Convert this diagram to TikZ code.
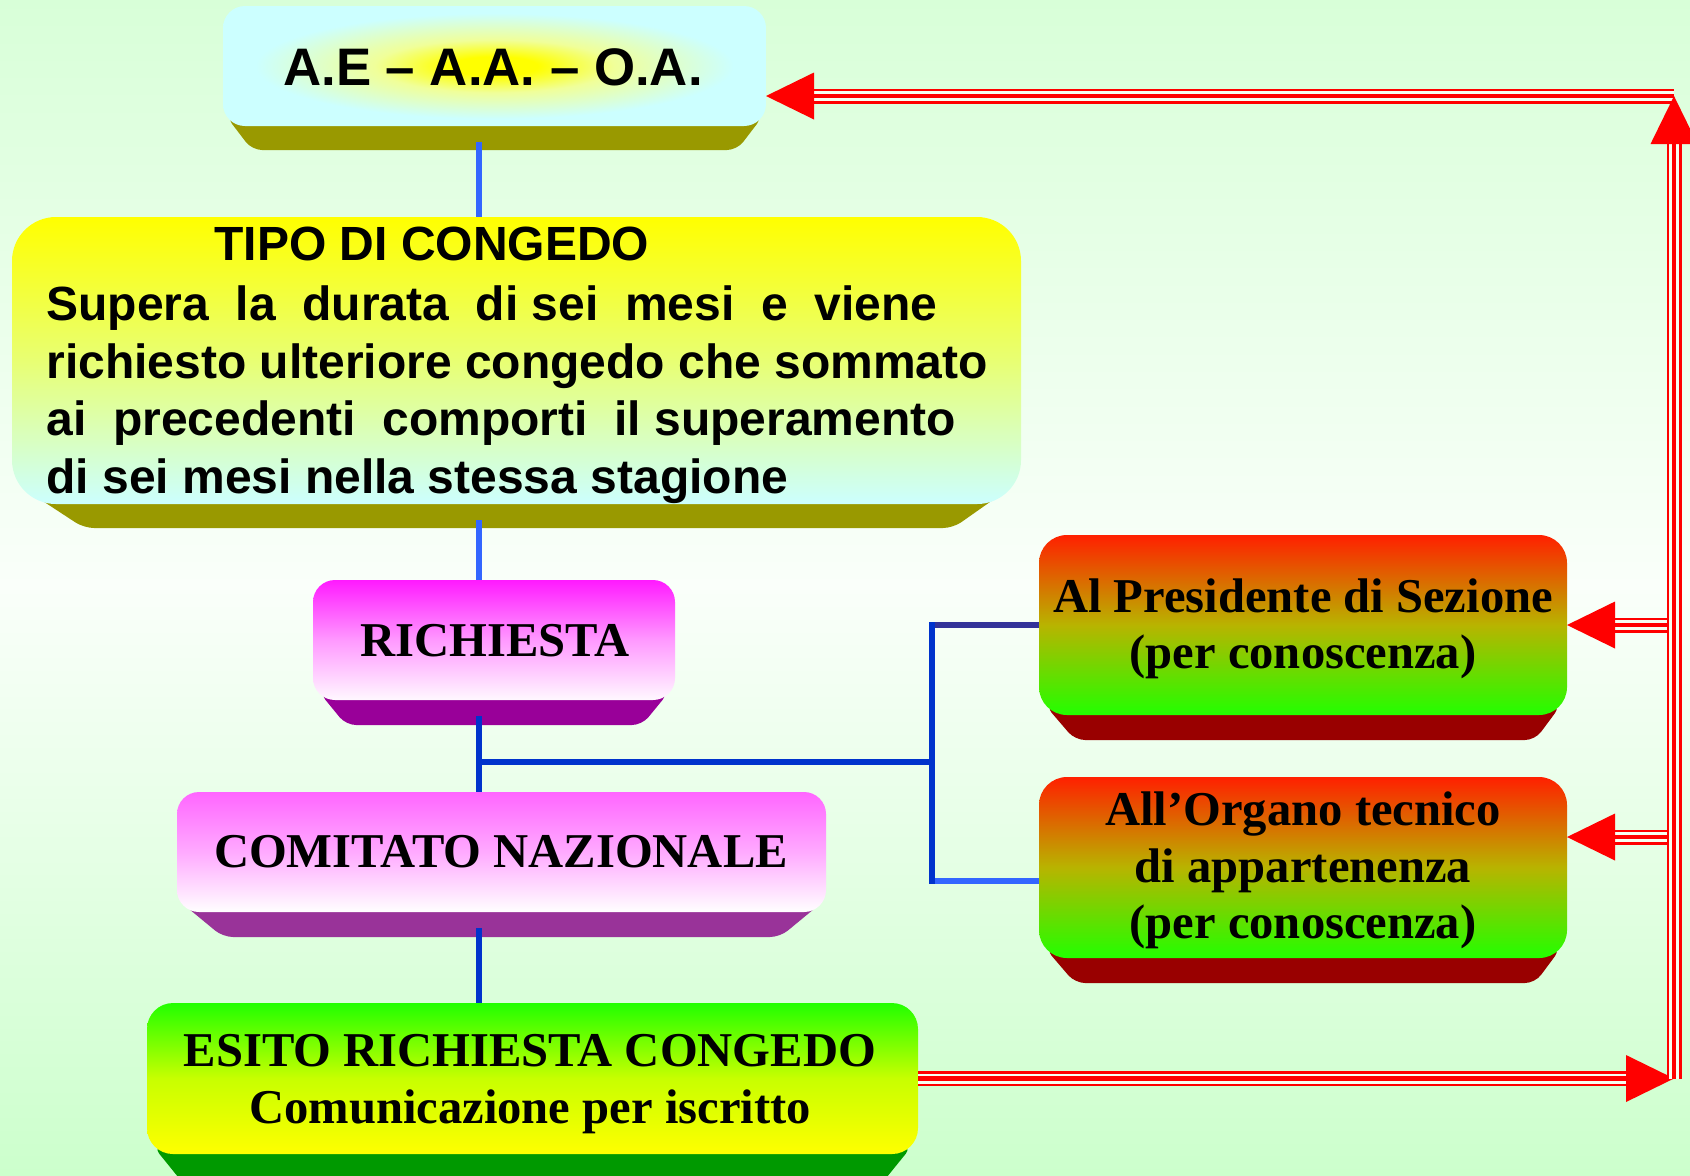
\documentclass[tikz,border=0pt]{standalone}
\usepackage{fontspec}
\setmainfont{Liberation Serif}
\newfontfamily\sansb{Liberation Sans}
\usetikzlibrary{calc}
\pgfdeclarelayer{back}
\pgfdeclarelayer{bev}
\pgfsetlayers{back,bev,main}
\definecolor{bgtop}{HTML}{D8FFD8}
\definecolor{bgmid}{HTML}{FAFFFA}
\definecolor{bgbot}{HTML}{CCFFCC}
\definecolor{faceA}{HTML}{CCFFFF}
\definecolor{bevA}{HTML}{999900}
\definecolor{magtop}{HTML}{FF1AFF}
\definecolor{magmid}{HTML}{FF99FF}
\definecolor{magbot}{HTML}{FFF8FF}
\definecolor{bevC}{HTML}{990099}
\definecolor{pinktop}{HTML}{FF66FF}
\definecolor{pinkmid}{HTML}{FFAAFF}
\definecolor{bevD}{HTML}{993399}
\definecolor{gtop}{HTML}{22FF00}
\definecolor{gmid}{HTML}{C8FF00}
\definecolor{gbot}{HTML}{FFFF00}
\definecolor{bevE}{HTML}{009900}
\definecolor{rtop}{HTML}{FF2000}
\definecolor{rmid}{HTML}{B8B400}
\definecolor{rbot}{HTML}{22FF00}
\definecolor{bevF}{HTML}{990000}
\definecolor{blA}{HTML}{3366FF}
\definecolor{blB}{HTML}{0033CC}
\definecolor{blC}{HTML}{333399}
\definecolor{gapc}{HTML}{F6FFF2}
\definecolor{glowy}{HTML}{FFFF00}
\definecolor{glowm}{HTML}{F0FF99}
\pgfdeclareradialshading{glowA}{\pgfpoint{0bp}{0bp}}{color(0bp)=(glowy); color(4bp)=(glowy); color(11bp)=(glowm); color(22bp)=(faceA); color(50bp)=(faceA)}
\newcommand\mybev[7]{% node, colour, start x, start y, inset, depth
  \begin{pgfonlayer}{bev}
  \fill[#2, rounded corners=5pt] ([shift={(#3,#4)}]#1.south west) -- ([shift={(#5,#6)}]#1.south west)
     -- ([shift={(-#7,#6)}]#1.south east) -- ([shift={(-#3,#4)}]#1.south east) -- cycle;
  \end{pgfonlayer}}
\tikzset{
  face/.style={draw=none, inner sep=0pt, outer sep=0pt, rounded corners=11pt},
  sanstxt/.style={anchor=base, inner sep=0pt, font=\sansb\bfseries\fontsize{24}{29}\selectfont},
  sertxt/.style={anchor=base, inner sep=0pt, font=\bfseries\fontsize{24.3}{29}\selectfont},
  bline/.style={line width=3.2pt},
  tri/.style={draw=red, line width=7.5pt, postaction={draw=gapc, line width=5pt}, postaction={draw=red, line width=2.4pt}},
}
\begin{document}
\begin{tikzpicture}[x=0.5pt, y=-0.5pt]
\useasboundingbox (0,0) rectangle (1690,1175);
\begin{pgfonlayer}{back}
\shade[top color=bgtop, bottom color=bgbot, middle color=bgmid] (0,0) rectangle (1690,1175);
\end{pgfonlayer}

% box faces
\node[face, shade, shading=glowA, minimum width=271.5pt, minimum height=60pt] (A) at (494.5,66) {};
\node[face, rounded corners=22pt, top color=yellow, bottom color=faceA, middle color=yellow!55!faceA, minimum width=504.5pt, minimum height=143.5pt] (B) at (516.5,360.5) {};
\node[face, top color=magtop, bottom color=magbot, middle color=magmid, minimum width=181pt, minimum height=60pt] (C) at (494,640) {};
\node[face, top color=pinktop, bottom color=white, middle color=pinkmid, minimum width=324.5pt, minimum height=60pt] (D) at (501.5,852) {};
\node[face, rounded corners=13pt, top color=gtop, bottom color=gbot, middle color=gmid, minimum width=385.5pt, minimum height=75.5pt] (E) at (532.5,1078.5) {};
\node[face, rounded corners=14pt, top color=rtop, bottom color=rbot, middle color=rmid, minimum width=264pt, minimum height=90pt] (F) at (1303,625) {};
\node[face, rounded corners=14pt, top color=rtop, bottom color=rbot, middle color=rmid, minimum width=264pt, minimum height=90.5pt] (G) at (1303,867.5) {};

% bevels
\mybev{A}{bevA}{3}{-10}{29}{24}{29}
\mybev{B}{bevA}{14}{-14}{72}{24}{68}
\mybev{C}{bevC}{6}{-8}{33}{25}{33}
\mybev{D}{bevD}{6}{-8}{46}{25}{46}
\mybev{E}{bevE}{6}{-8}{40}{34}{40}
\mybev{F}{bevF}{6}{-10}{36}{25}{32}
\mybev{G}{bevF}{6}{-10}{36}{25}{32}

% texts
\node[sanstxt, font=\sansb\bfseries\fontsize{26.4}{30}\selectfont] (At) at (493,85) {A.E – A.A. – O.A.};
\node[sanstxt, anchor=base west] (Bt0) at (214,260) {TIPO DI CONGEDO};
\node[sanstxt, anchor=base west] (Bt1) at (46,320) {Supera~ la~ durata~ di sei~ mesi~ e~ viene};
\node[sanstxt, anchor=base west] (Bt2) at (46,378) {richiesto ulteriore congedo che sommato};
\node[sanstxt, anchor=base west] (Bt3) at (46,435) {ai~ precedenti~ comporti~ il superamento};
\node[sanstxt, anchor=base west] (Bt4) at (46,493) {di sei mesi nella stessa stagione};
\node[sertxt] (Ct) at (495,656) {RICHIESTA};
\node[sertxt] (Dt) at (501,867) {COMITATO NAZIONALE};
\node[sertxt] (Et1) at (530,1066) {ESITO RICHIESTA CONGEDO};
\node[sertxt] (Et2) at (530,1123) {Comunicazione per iscritto};
\node[sertxt] (Ft1) at (1303,612) {Al Presidente di Sezione};
\node[sertxt] (Ft2) at (1303,668) {(per conoscenza)};
\node[sertxt] (Gt1) at (1303,825) {All’Organo tecnico};
\node[sertxt] (Gt2) at (1303,882) {di appartenenza};
\node[sertxt] (Gt3) at (1303,938) {(per conoscenza)};

% blue connectors
\coordinate (spine) at (479,0);
\coordinate (a1) at (spine |- A.south);
\coordinate (b1) at (spine |- B.south);
\coordinate (c1) at (spine |- C.south);
\coordinate (d1) at (spine |- D.south);
\draw[bline, blA] ([yshift=-8pt]a1) -- (spine |- B.north);
\draw[bline, blA] ([yshift=-8pt]b1) -- (spine |- C.north);
\draw[bline, blB] ([yshift=-8pt]c1) -- (spine |- D.north);
\draw[bline, blB] ([yshift=-8pt]d1) -- (spine |- E.north);
\coordinate (J) at (479,762);
\coordinate (K) at (932,762);
\coordinate (GB) at ([yshift=-6.75pt]G.west);
\draw[bline, blB] (J) -- (K);
\draw[bline, blC] (K |- F.west) -- (F.west);
\draw[bline, blA] (K |- GB) -- (GB);
\draw[bline, blB, line cap=rect] (K |- F.west) -- (K |- GB);

% red triple arrows
\coordinate (RT) at (1674,96);
\coordinate (RB) at (1674,1078.5);
\coordinate (AR) at ([yshift=-15pt]A.east);
\coordinate (GR) at ([yshift=15.25pt]G.east);
\draw[tri] (E.east) -- ([xshift=-24pt]RB);
\fill[red] (RB) -- ++(-48,-23.5) -- ++(0,47) -- cycle;
\draw[tri] (RT |- F.east) -- ([xshift=24pt]F.east);
\fill[red] (F.east) -- ++(48,-23.5) -- ++(0,47) -- cycle;
\draw[tri] (RT |- GR) -- ([xshift=24pt]GR);
\fill[red] (GR) -- ++(48,-23.5) -- ++(0,47) -- cycle;
\draw[tri] (RT) -- ([xshift=24pt]AR);
\fill[red] (AR) -- ++(48,-23.5) -- ++(0,47) -- cycle;
\draw[tri] (RB) -- ([yshift=-24pt]RT);
\fill[red] (RT) -- ++(-23.5,48) -- ++(47,0) -- cycle;
\end{tikzpicture}
\end{document}
